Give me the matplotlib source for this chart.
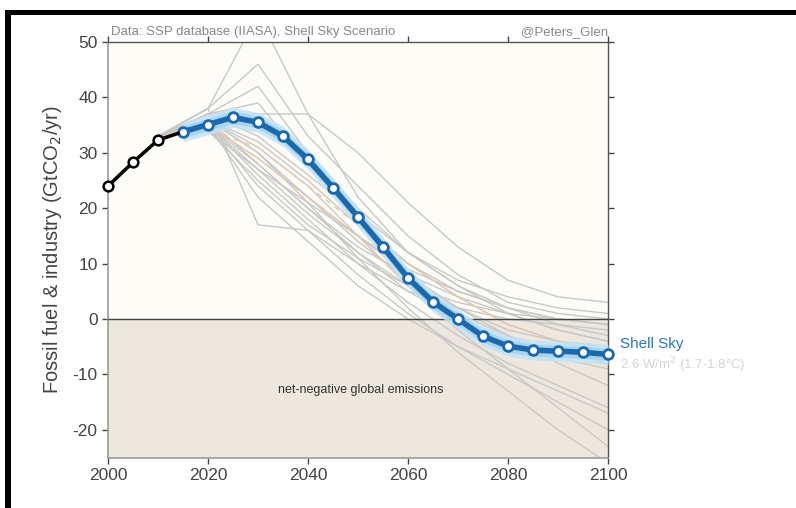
import matplotlib
matplotlib.use("Agg")
import matplotlib.pyplot as plt
from matplotlib.patches import Rectangle
import numpy as np

plt.rcParams['font.family'] = ['Liberation Sans', 'DejaVu Sans']
plt.rcParams['axes.unicode_minus'] = False

# historical emissions (black)
hist_years = [2000, 2005, 2010, 2014]
hist_vals = [24.0, 28.3, 32.3, 33.5]

# Shell Sky scenario (blue)
sky_years = [2015, 2020, 2025, 2030, 2035, 2040, 2045, 2050, 2055, 2060,
             2065, 2070, 2075, 2080, 2085, 2090, 2095, 2100]
sky_vals = [33.8, 35.1, 36.4, 35.5, 33.0, 28.8, 23.7, 18.4, 13.0, 7.4,
            3.1, 0.0, -3.1, -4.9, -5.6, -5.8, -6.0, -6.4]

# SSP database scenarios (grey)
ssp_years = [2010, 2020, 2030, 2040, 2050, 2060, 2070, 2080, 2090, 2100]
ssp_runs = [
    [33, 38, 55, 37, 22, 12, 6, 2, 0, -1],
    [33, 38, 46, 33, 24, 15, 8, 3, 1, 0],
    [33, 37, 42, 30, 20, 12, 6, 1, -2, -4],
    [33, 37, 39, 28, 18, 10, 4, -1, -4, -6],
    [33, 37, 37, 37, 30, 21, 13, 7, 4, 3],
    [33, 38, 17, 16, 10, 5, 2, 0, -1, -2],
    [33, 36, 30, 22, 14, 7, 2, -2, -4, -5],
    [33, 36, 28, 20, 12, 5, 0, -4, -7, -9],
    [33, 35, 26, 18, 10, 3, -3, -8, -12, -16],
    [33, 35, 24, 16, 8, 1, -5, -10, -15, -20],
    [33, 35, 27, 21, 15, 9, 5, 2, -1, -3],
    [33, 36, 32, 25, 17, 10, 5, 2, 0, -1],
    [33, 35, 29, 22, 15, 8, 2, -3, -8, -12],
    [33, 34, 25, 17, 11, 6, 3, 1, 0, -1],
    [33, 36, 31, 24, 15, 6, -2, -9, -16, -23],
    [33, 35, 22, 14, 6, 0, -5, -9, -13, -17],
    [33, 37, 33, 26, 19, 12, 7, 4, 2, 1],
    [33, 36, 30, 21, 11, 2, -6, -13, -20, -26],
    [33, 34, 27, 19, 12, 6, 1, -3, -6, -8],
    [33, 35, 28, 20, 13, 8, 4, 1, -2, -4],
]

# faint orange dashed scenarios
orange_runs = [
    [33, 34, 31, 24, 17, 10, 4, -1, -4, -6],
    [33, 35, 29, 22, 15, 6, 0, -4, -6, -7],
]

fig = plt.figure(figsize=(7.96, 5.08), dpi=100)
ax = fig.add_axes([0.1357, 0.0994, 0.6281, 0.8179])

ax.axhspan(0, 60, color='#fdfcf6', zorder=0)
ax.axhspan(-30, 0, color='#ede7dd', zorder=0)

for run in ssp_runs:
    ax.plot(ssp_years, run, color='#c8c8c8', lw=1.0, zorder=2)
for run in orange_runs:
    ax.plot(ssp_years, run, color='#f3c49a', lw=1.0, ls=(0, (4, 4)), zorder=2)

ax.axhline(0, color='#444444', lw=1.0, zorder=3)

sky = np.array(sky_vals)
ax.fill_between(sky_years, sky - 1.8, sky + 1.8, color='#c2e3f5', alpha=0.85, lw=0, zorder=4)
ax.fill_between(sky_years, sky - 1.1, sky + 1.1, color='#9fd2f0', alpha=0.8, lw=0, zorder=4)
ax.plot(sky_years, sky_vals, color='#1c68ac', lw=4, marker='o', ms=7,
        mfc='white', mec='#1c68ac', mew=2, zorder=6, clip_on=False)

ax.plot(hist_years, hist_vals, color='black', lw=2.5, marker='o', ms=7,
        mfc='white', mec='black', mew=1.8, markevery=[0, 1, 2], zorder=7, clip_on=False)

ax.text(2102.5, -4.5, 'Shell Sky', color='#2a78bd', fontsize=11, va='center', clip_on=False)
ax.text(2102.5, -8.3, '2.6 W/m$^2$ (1.7-1.8°C)', color='#d4d4d4', fontsize=9.5,
        va='center', clip_on=False)
ax.text(2050.5, -12.8, 'net-negative global emissions', color='#333333', fontsize=9,
        ha='center', va='center')

ax.text(2000.5, 50.8, 'Data: SSP database (IIASA), Shell Sky Scenario', color='#888888',
        fontsize=9.5, va='bottom')
ax.text(2100, 50.8, '@Peters_Glen', color='#888888', fontsize=9.5, va='bottom', ha='right')

ax.set_xlim(2000, 2100)
ax.set_ylim(-25, 50)
ax.set_xticks([2000, 2020, 2040, 2060, 2080, 2100])
ax.set_yticks([-20, -10, 0, 10, 20, 30, 40, 50])
ax.tick_params(axis='both', labelsize=12.5, colors='#444444', length=4, width=1,
               top=True, right=True, direction='out')
ax.set_ylabel('Fossil fuel & industry (GtCO$_2$/yr)', fontsize=14.5, color='#444444', labelpad=6)

for side in ['left', 'bottom']:
    ax.spines[side].set_color('#9a9a9a')
    ax.spines[side].set_linewidth(1.2)
for side in ['top', 'right']:
    ax.spines[side].set_color('#555555')
    ax.spines[side].set_linewidth(1.0)

# black frame at top and left
fig.add_artist(Rectangle((5 / 796, 1 - 15 / 508), 1, 5 / 508, transform=fig.transFigure,
                         color='black', lw=0))
fig.add_artist(Rectangle((5 / 796, 0), 6 / 796, 1 - 10 / 508, transform=fig.transFigure,
                         color='black', lw=0))

fig.savefig('out.png', dpi=100)
